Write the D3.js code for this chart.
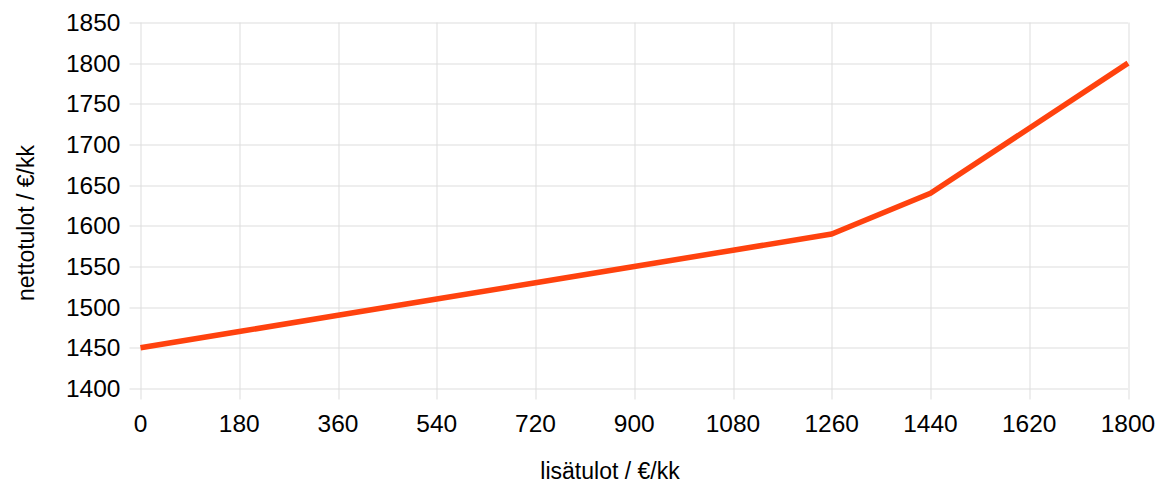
<!DOCTYPE html>
<html>
<head>
<meta charset="utf-8">
<script src="https://cdn.jsdelivr.net/npm/d3@7"></script>
<style>
  body { margin: 0; background: #fff; }
  text { font-family: "Liberation Sans", Arial, sans-serif; fill: #000; }
</style>
</head>
<body>
<div id="chart"></div>
<script>
// data
var lisatulot = [0, 180, 360, 540, 720, 900, 1080, 1260, 1440, 1620, 1800]
var nettotulot = [1450, 1470, 1490, 1510, 1530, 1550, 1570, 1590, 1640, 1720, 1800]
var xTicks = [0, 180, 360, 540, 720, 900, 1080, 1260, 1440, 1620, 1800]
var yTicks = [1400, 1450, 1500, 1550, 1600, 1650, 1700, 1750, 1800, 1850]

var svgWdth = 1167
var svgHt = 484
var margin = { top: 22.5, left: 140.5, right: 39, bottom: 95.5 }
var width = svgWdth - margin.left - margin.right
var height = svgHt - margin.top - margin.bottom

var svg = d3.select('#chart')
  .append('svg')
  .attr('width', svgWdth)
  .attr('height', svgHt)

var chartGroup = svg.append('g')
  .attr('transform', `translate(${margin.left}, ${margin.top})`)

var x = d3.scaleLinear().domain([0, 1800]).range([0, width])
var y = d3.scaleLinear().domain([1400, 1850]).range([height, 0])

// grid
chartGroup.append('g')
  .selectAll('line.h')
  .data(yTicks)
  .enter().append('line')
  .attr('x1', -11).attr('x2', width)
  .attr('y1', d => Math.round(y(d)) + 0.5).attr('y2', d => Math.round(y(d)) + 0.5)
  .attr('stroke', '#dddddd').attr('stroke-width', 1)

chartGroup.append('g')
  .selectAll('line.v')
  .data(xTicks)
  .enter().append('line')
  .attr('x1', d => Math.round(x(d)) + 0.5).attr('x2', d => Math.round(x(d)) + 0.5)
  .attr('y1', 0).attr('y2', height + 11)
  .attr('stroke', '#dddddd').attr('stroke-width', 1)

// tick labels
chartGroup.append('g')
  .selectAll('text')
  .data(yTicks)
  .enter().append('text')
  .attr('x', -20)
  .attr('y', d => y(d))
  .attr('dy', '0.35em')
  .attr('text-anchor', 'end')
  .style('font-size', '24.5px')
  .text(d => d)

chartGroup.append('g')
  .selectAll('text')
  .data(xTicks)
  .enter().append('text')
  .attr('x', d => x(d))
  .attr('y', height + 43)
  .attr('text-anchor', 'middle')
  .style('font-size', '24.5px')
  .text(d => d)

// the line
var line = d3.line()
  .x((d, i) => x(lisatulot[i]))
  .y(d => y(d))

chartGroup.append('path')
  .datum(nettotulot)
  .attr('d', line)
  .attr('fill', 'none')
  .attr('stroke', '#ff420e')
  .attr('stroke-width', 5.5)
  .attr('stroke-linejoin', 'round')

// axis titles
svg.append('text')
  .attr('x', 610)
  .attr('y', 479)
  .attr('text-anchor', 'middle')
  .style('font-size', '23px')
  .text('lisätulot / €/kk')

svg.append('text')
  .attr('transform', `translate(34, 223) rotate(-90)`)
  .attr('text-anchor', 'middle')
  .style('font-size', '23px')
  .text('nettotulot / €/kk')
</script>
</body>
</html>
